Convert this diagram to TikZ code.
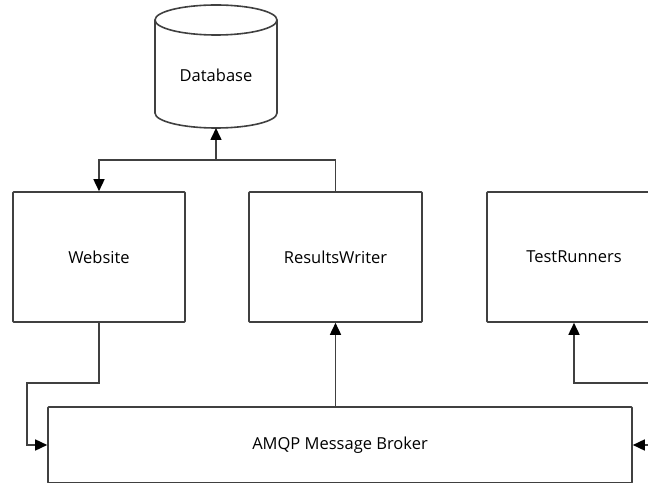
\documentclass[tikz,border=0pt]{standalone}
\usepackage{fontspec}
\setmainfont{Open Sans}
\usetikzlibrary{arrows.meta}
\definecolor{ln}{HTML}{404040}
\tikzset{
  lbl/.style={font=\fontsize{16.5}{19}\selectfont},
  box/.style={draw=ln, line width=1.6pt, rectangle, rounded corners=0.8pt, inner sep=0pt, lbl},
  conn/.style={draw=ln, line width=1.6pt},
  arr/.style={conn, -{Triangle[length=12pt,width=11pt,color=black]}}
}
\begin{document}
\begin{tikzpicture}[x=1pt,y=1pt]
\useasboundingbox (0,0) rectangle (648,482);
\clip (0,0) rectangle (648,482);
% database cylinder
\draw[conn] (155,462) -- (155,369) arc[start angle=180,end angle=360,x radius=61,y radius=15] -- (277,462);
\draw[conn, fill=white] (216,462) ellipse[x radius=61,y radius=15];
\node[lbl] (db) at (216,407) {Database};
\coordinate (dbb) at (216,354);
% boxes
\node[box, minimum width=172pt, minimum height=130pt] (web) at (99,225) {Website};
\node[box, minimum width=173pt, minimum height=130pt] (rw) at (335.5,225) {ResultsWriter};
\node[box, minimum width=174pt, minimum height=130pt] (tr) at (574,225) {TestRunners};
\node[box, minimum width=584pt, minimum height=76pt] (mq) at (340,37) {AMQP Message Broker};
% connectors
\coordinate (j) at (216,322);
\coordinate (wl) at (27,99);
\coordinate (tre) at (660,99);
\coordinate (mqe) at (660,37);
\draw[arr] (rw.north) |- (j) -- (dbb);
\draw[arr] (j) -| (web.north);
\draw[arr] (web.south) |- (wl) |- (mq.west);
\draw[arr] (mq.north -| rw.south) -- (rw.south);
\draw[arr] (tre) -| (tr.south);
\draw[arr] (mqe) -- (mq.east);
\end{tikzpicture}
\end{document}
